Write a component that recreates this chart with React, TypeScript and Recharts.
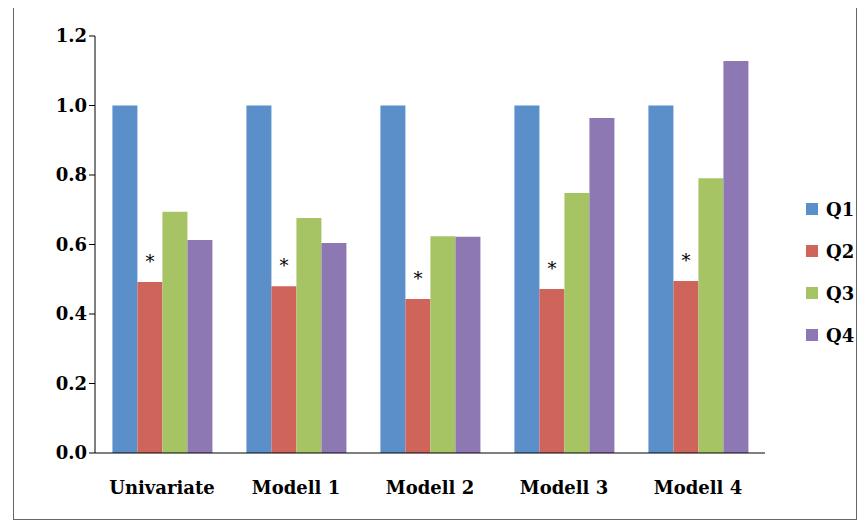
import { Bar, BarChart, LabelList, XAxis, YAxis } from "recharts";

const categories = ["Univariate", "Modell 1", "Modell 2", "Modell 3", "Modell 4"];
const q1 = [1.0, 1.0, 1.0, 1.0, 1.0];
const q2 = [0.492, 0.48, 0.443, 0.472, 0.495];
const q3 = [0.694, 0.676, 0.624, 0.748, 0.791];
const q4 = [0.613, 0.604, 0.622, 0.964, 1.128];
const yTicks = [0, 0.2, 0.4, 0.6, 0.8, 1.0, 1.2];

const series = [
  { key: "Q1", color: "#5b8fc9" },
  { key: "Q2", color: "#cf645b" },
  { key: "Q3", color: "#a6c463" },
  { key: "Q4", color: "#8e78b4" },
];

const data = categories.map((name, i) => ({
  name,
  Q1: q1[i],
  Q2: q2[i],
  Q3: q3[i],
  Q4: q4[i],
}));

const font = "'DejaVu Serif', 'Liberation Serif', serif";

export default function App() {
  return (
    <div style={{ position: "relative", width: 852, height: 514, fontFamily: font }}>
      <div
        style={{
          position: "absolute",
          left: 5,
          top: -10,
          width: 842,
          height: 520,
          border: "1px solid #666",
        }}
      />
      <BarChart
        width={852}
        height={514}
        data={data}
        margin={{ top: 28, right: 95, left: 30, bottom: 19 }}
        barCategoryGap="13%"
        barGap={0}
      >
        <XAxis
          dataKey="name"
          height={50}
          tickLine={false}
          tickMargin={22}
          stroke="#000"
          tick={{ fill: "#000", fontSize: 18, fontWeight: "bold", fontFamily: font }}
        />
        <YAxis
          width={57}
          domain={[0, 1.2]}
          ticks={yTicks}
          tickFormatter={(v: number) => v.toFixed(1)}
          stroke="#000"
          tick={{ fill: "#000", fontSize: 18, fontWeight: "bold", fontFamily: font }}
        />
        {series.map((s) => (
          <Bar key={s.key} dataKey={s.key} fill={s.color} isAnimationActive={false}>
            {s.key === "Q2" && (
              <LabelList
                dataKey="Q2"
                position="top"
                offset={14}
                formatter={() => "*"}
                style={{ fill: "#000", fontSize: 18, fontFamily: font }}
              />
            )}
          </Bar>
        ))}
      </BarChart>
      <div style={{ position: "absolute", left: 798, top: 180 }}>
        {series.map((s) => (
          <div key={s.key} style={{ display: "flex", alignItems: "center", height: 42 }}>
            <div style={{ width: 12, height: 12, background: s.color, marginRight: 8 }} />
            <span style={{ fontSize: 18, fontWeight: "bold" }}>{s.key}</span>
          </div>
        ))}
      </div>
    </div>
  );
}
